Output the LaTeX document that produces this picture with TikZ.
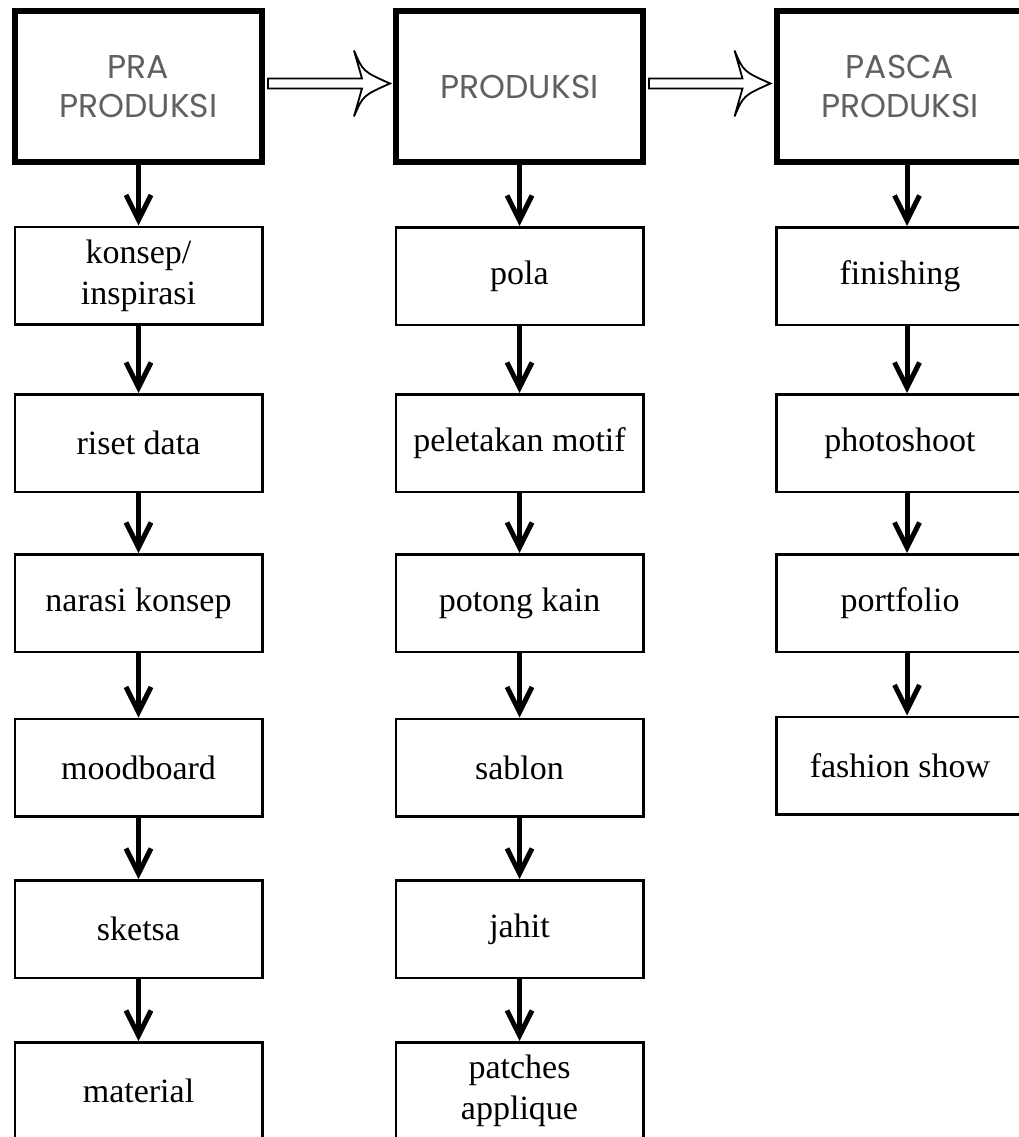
\documentclass[tikz,border=0pt]{standalone}
\usepackage{fontspec}
\setmainfont{Liberation Serif}
\newfontfamily\headfont{Poppins}
\usetikzlibrary{arrows.meta,calc}
\definecolor{headgray}{HTML}{606060}

\begin{document}
\begin{tikzpicture}[
  x=1pt, y=-1pt,
  head/.style={draw, line width=6pt, minimum width=247pt, minimum height=151pt, inner sep=0pt,
    align=center, text=headgray, font=\headfont\fontsize{33}{39}\selectfont},
  box/.style={draw, line width=2.5pt, minimum width=247.5pt, minimum height=97.5pt, inner sep=0pt,
    align=center, font=\fontsize{34}{41}\selectfont},
  down/.style={line width=5pt, -{Straight Barb[length=25pt, width=25pt]}},
  hollow/.style={draw, line width=1.8pt, fill=white}
]
\path[fill=white, use as bounding box] (0,0) rectangle (1019,1137);

% headers
\node[head] (pra) at (138.5,86.5) {PRA\\PRODUKSI};
\node[head] (prod) at (519.5,86.5) {PRODUKSI};
\node[head] (pasca) at (900,86.5) {PASCA\\PRODUKSI};

% pra produksi
\node[box] (konsep) at (138.5,275.5) {konsep/\\inspirasi};
\node[box] (riset) at (138.5,443) {riset data};
\node[box] (narasi) at (138.5,603) {narasi konsep};
\node[box] (mood) at (138.5,767.5) {moodboard};
\node[box] (sketsa) at (138.5,929) {sketsa};
\node[box] (material) at (138.5,1091) {material};

% produksi
\node[box] (pola) at (519.5,276) {pola};
\node[box] (motif) at (519.5,443) {peletakan motif};
\node[box] (potong) at (519.5,603) {potong kain};
\node[box] (sablon) at (519.5,767.5) {sablon};
\node[box] (jahit) at (519.5,929) {jahit};
\node[box] (patches) at (519.5,1091) {patches\\applique};

% pasca produksi
\node[box] (finish) at (900,276) {finishing};
\node[box] (photo) at (900,443) {photoshoot};
\node[box] (folio) at (900,603) {portfolio};
\node[box] (show) at (900,765.5) {fashion show};

% hollow arrows between the stages
\draw[hollow] let \p1=([xshift=3pt,yshift=3pt]pra.east), \p2=([xshift=-3pt,yshift=3pt]prod.west) in
  (\x1,\y1+5pt) -- (\x2-28pt,\y1+5pt) -- (\x2-36pt,\y1+33pt)
  .. controls (\x2-27pt,\y1+12pt) .. (\x2,\y1)
  .. controls (\x2-27pt,\y1-12pt) .. (\x2-36pt,\y1-33pt)
  -- (\x2-28pt,\y1-5pt) -- (\x1,\y1-5pt) -- cycle;
\draw[hollow] let \p1=([xshift=3pt,yshift=3pt]prod.east), \p2=([xshift=-3pt,yshift=3pt]pasca.west) in
  (\x1,\y1+5pt) -- (\x2-28pt,\y1+5pt) -- (\x2-36pt,\y1+33pt)
  .. controls (\x2-27pt,\y1+12pt) .. (\x2,\y1)
  .. controls (\x2-27pt,\y1-12pt) .. (\x2-36pt,\y1-33pt)
  -- (\x2-28pt,\y1-5pt) -- (\x1,\y1-5pt) -- cycle;

\draw[down] (pra) -- (konsep);
\draw[down] (konsep) -- (riset);
\draw[down] (riset) -- (narasi);
\draw[down] (narasi) -- (mood);
\draw[down] (mood) -- (sketsa);
\draw[down] (sketsa) -- (material);

\draw[down] (prod) -- (pola);
\draw[down] (pola) -- (motif);
\draw[down] (motif) -- (potong);
\draw[down] (potong) -- (sablon);
\draw[down] (sablon) -- (jahit);
\draw[down] (jahit) -- (patches);

\draw[down] ([xshift=7pt]pasca.south) -- ([xshift=7pt]finish.north);
\draw[down] ([xshift=7pt]finish.south) -- ([xshift=7pt]photo.north);
\draw[down] ([xshift=7pt]photo.south) -- ([xshift=7pt]folio.north);
\draw[down] ([xshift=7pt]folio.south) -- ([xshift=7pt]show.north);
\end{tikzpicture}
\end{document}
